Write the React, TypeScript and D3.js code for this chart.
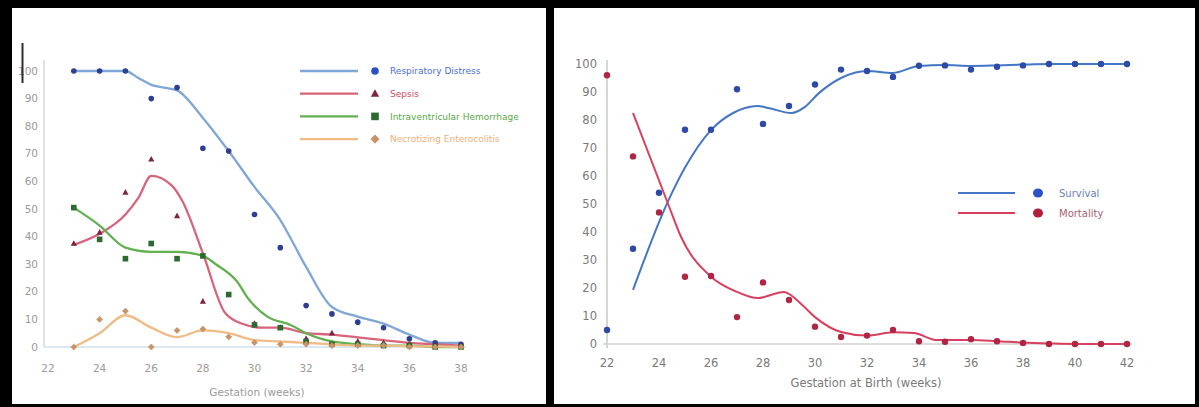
import React from "react";
import * as d3 from "d3";

// ---------- Left chart data ----------
const leftWeeks = [23, 24, 25, 26, 27, 28, 29, 30, 31, 32, 33, 34, 35, 36, 37, 38];
const respDistress = [100, 100, 100, 90, 94, 72, 71, 48, 36, 15, 12, 9, 7, 3, 1.5, 1];
const sepsis: (number | null)[] = [37.5, 41.5, 56, 68, 47.5, 16.5, null, 8.5, 7, 3, 5, 2, 1.5, 1, 0.5, 0.5];
const ivh = [50.5, 39, 32, 37.5, 32, 33, 19, 8, 7, 2, 1, 1, 0.5, 0.5, 0, 0];
const nec = [0, 10, 13, 0, 6, 6.5, 3.7, 1.6, 1, 1, 0.5, 0.5, 0.5, 0, 0, 0];

const respTrendWeeks = [23, 24, 25, 25.5, 26, 26.5, 27, 28, 29, 30, 31, 32, 33, 34, 35, 36, 37, 38];
const respTrend = [100, 100, 100, 97.5, 95, 94, 93, 83, 71, 58, 46, 29, 14.5, 11, 8.5, 4.5, 1.5, 1.5];
const sepsisTrendWeeks = [23, 24, 25, 25.5, 26, 26.8, 27.2, 28, 28.85, 29.5, 30.3, 31, 32, 33, 34, 35, 36, 37, 38];
const sepsisTrend = [37, 41, 48, 54, 62, 58.5, 53, 34, 12.5, 8.5, 7, 7, 5, 4.5, 3.5, 2.5, 1.5, 1, 0.5];
const ivhTrendWeeks = [23, 24, 25, 26, 27, 28, 28.5, 29.3, 29.8, 30.5, 31.4, 32, 33, 34, 35, 36, 37, 38];
const ivhTrend = [50.5, 44, 36, 34.5, 34.5, 33, 30, 24, 17, 11, 8, 5, 2, 1, 0.5, 0.5, 0, 0];
const necTrendWeeks = [23, 24, 25, 26, 27, 28, 29, 30, 31, 32, 33, 34, 35, 36, 37, 38];
const necTrend = [0, 5, 11.5, 7, 3.6, 6, 5, 2.5, 2, 1.5, 1, 0.5, 0.5, 0.3, 0.2, 0];

const leftLegend = ["Respiratory Distress", "Sepsis", "Intraventricular Hemorrhage", "Necrotizing Enterocolitis"];
const leftXTicks = [22, 24, 26, 28, 30, 32, 34, 36, 38];
const leftYTicks = [0, 10, 20, 30, 40, 50, 60, 70, 80, 90, 100];

// ---------- Right chart data ----------
const rightWeeks = [22, 23, 24, 25, 26, 27, 28, 29, 30, 31, 32, 33, 34, 35, 36, 37, 38, 39, 40, 41, 42];
const survival = [5, 34, 54, 76.5, 76.5, 91, 78.6, 85, 92.7, 98, 97.5, 95.4, 99.4, 99.5, 98, 99, 99.5, 100, 100, 100, 100];
const mortality = [96, 67, 47, 24, 24.3, 9.6, 22, 15.7, 6.2, 2.5, 3, 5, 1, 0.8, 1.7, 1, 0.4, 0, 0, 0, 0];

const survivalTrendWeeks = [23, 24.35, 25, 26, 26.85, 27.8, 28.2, 29.1, 29.6, 30.15, 31, 32, 33, 34, 35, 36, 37, 38, 39, 40, 41, 42];
const survivalTrend = [19.3, 51, 63, 76.4, 82.5, 85, 84.3, 82.5, 84.6, 89.6, 95, 97.5, 96.8, 99.3, 99.6, 99.3, 99.5, 99.8, 100, 100, 100, 100];
const mortalityTrendWeeks = [23, 24.35, 24.85, 26, 27, 27.8, 28.8, 29.5, 30, 31, 32, 33, 33.8, 34.7, 36, 37, 38, 39, 40, 41, 42];
const mortalityTrend = [82.5, 50, 38.2, 24, 18.6, 16.4, 18.6, 14, 9.6, 4.3, 3, 4.2, 3.9, 1.4, 1.4, 1, 0.5, 0.2, 0, 0, 0];

const rightLegend = ["Survival", "Mortality"];
const rightXTicks = [22, 24, 26, 28, 30, 32, 34, 36, 38, 40, 42];
const rightYTicks = [0, 10, 20, 30, 40, 50, 60, 70, 80, 90, 100];

const FONT = "'DejaVu Sans', Verdana, sans-serif";

export default function App() {
  // left scales
  const xL = d3.scaleLinear().domain([22, 38]).range([48, 461]);
  const yL = d3.scaleLinear().domain([0, 100]).range([347, 71]);
  // right scales
  const xR = d3.scaleLinear().domain([22, 42]).range([607, 1127]);
  const yR = d3.scaleLinear().domain([0, 100]).range([344, 64]);

  const lineL = (ws: number[], vs: number[]) =>
    d3.line<number>().x((_, i) => xL(ws[i])).y((v) => yL(v)).curve(d3.curveMonotoneX)(vs) || "";
  const lineR = (ws: number[], vs: number[]) =>
    d3.line<number>().x((_, i) => xR(ws[i])).y((v) => yR(v)).curve(d3.curveMonotoneX)(vs) || "";

  const leftSeries = [
    { name: leftLegend[0], vals: respDistress as (number | null)[], tw: respTrendWeeks, tv: respTrend, line: "#7ea6d6", dot: "#2c3f92", text: "#4a6fd0", shape: "circle" },
    { name: leftLegend[1], vals: sepsis, tw: sepsisTrendWeeks, tv: sepsisTrend, line: "#d8647c", dot: "#7c2440", text: "#d04a68", shape: "triangle" },
    { name: leftLegend[2], vals: ivh as (number | null)[], tw: ivhTrendWeeks, tv: ivhTrend, line: "#62b050", dot: "#2c6a30", text: "#58a848", shape: "square" },
    { name: leftLegend[3], vals: nec as (number | null)[], tw: necTrendWeeks, tv: necTrend, line: "#f1bb86", dot: "#c99468", text: "#eeb07a", shape: "diamond" },
  ];

  const marker = (shape: string, cx: number, cy: number, r: number, fill: string, key?: string) => {
    if (shape === "triangle") {
      const p = `${cx},${cy - r * 1.2} ${cx + r * 1.1},${cy + r * 0.8} ${cx - r * 1.1},${cy + r * 0.8}`;
      return <polygon key={key} points={p} fill={fill} />;
    }
    if (shape === "square") {
      return <rect key={key} x={cx - r} y={cy - r} width={r * 2} height={r * 2} fill={fill} />;
    }
    if (shape === "diamond") {
      const p = `${cx},${cy - r * 1.2} ${cx + r * 1.2},${cy} ${cx},${cy + r * 1.2} ${cx - r * 1.2},${cy}`;
      return <polygon key={key} points={p} fill={fill} />;
    }
    return <circle key={key} cx={cx} cy={cy} r={r} fill={fill} />;
  };

  return (
    <svg width={1199} height={407} style={{ position: "absolute", left: 0, top: 0 }} fontFamily={FONT}>
      <rect x={0} y={0} width={1199} height={407} fill="#000" />
      <rect x={12} y={8} width={534} height={396} fill="#fff" />
      <rect x={554} y={8} width={641} height={396} fill="#fff" />

      {/* ---------- LEFT CHART ---------- */}
      <g>
        <line x1={44} x2={44} y1={60} y2={347} stroke="#d8d8d8" strokeWidth={1.5} />
        <line x1={44} x2={466} y1={347} y2={347} stroke="#cfe0ee" strokeWidth={1.5} />
        {leftYTicks.map((t) => (
          <text key={"ly" + t} x={38} y={yL(t)} dy="0.35em" textAnchor="end" fontSize={10.5} fill="#9a9a9a">
            {t}
          </text>
        ))}
        {leftXTicks.map((t) => (
          <text key={"lx" + t} x={xL(t)} y={372} textAnchor="middle" fontSize={10.5} fill="#9a9a9a">
            {t}
          </text>
        ))}
        <text x={257} y={396} textAnchor="middle" fontSize={10.5} fill="#9a9a9a">
          Gestation (weeks)
        </text>
        <line x1={22.5} x2={22.5} y1={43} y2={83} stroke="#2a2a3a" strokeWidth={2} />

        {leftSeries.map((s, si) => (
          <path key={"lt" + si} d={lineL(s.tw, s.tv)} fill="none" stroke={s.line} strokeWidth={2.3} />
        ))}
        {leftSeries.map((s, si) =>
          s.vals.map((v, i) =>
            v == null ? null : marker(s.shape, xL(leftWeeks[i]), yL(v), 2.8, s.dot, `lp${si}-${i}`)
          )
        )}

        {leftSeries.map((s, si) => {
          const y = 71 + si * 22.7;
          return (
            <g key={"lg" + si}>
              <line x1={300} x2={358} y1={y} y2={y} stroke={s.line} strokeWidth={2.3} />
              {marker(s.shape, 375, y, 3.8, s.dot === "#2c3f92" ? "#2d4fc8" : s.dot)}
              <text x={390} y={y} dy="0.35em" fontSize={9} fill={s.text}>
                {s.name}
              </text>
            </g>
          );
        })}
      </g>

      {/* ---------- RIGHT CHART ---------- */}
      <g>
        <line x1={607} x2={607} y1={60} y2={348} stroke="#c8c8c8" strokeWidth={1.5} />
        <line x1={603} x2={1132} y1={344} y2={344} stroke="#d0d0d0" strokeWidth={1.5} />
        {rightYTicks.map((t) => (
          <text key={"ry" + t} x={597} y={yR(t)} dy="0.35em" textAnchor="end" fontSize={11.5} fill="#7a7a7a">
            {t}
          </text>
        ))}
        {rightXTicks.map((t) => (
          <text key={"rx" + t} x={xR(t)} y={367} textAnchor="middle" fontSize={11.5} fill="#7a7a7a">
            {t}
          </text>
        ))}
        <text x={866} y={387} textAnchor="middle" fontSize={11.5} fill="#7a7a7a">
          Gestation at Birth (weeks)
        </text>

        <path d={lineR(survivalTrendWeeks, survivalTrend)} fill="none" stroke="#4476c6" strokeWidth={2} />
        <path d={lineR(mortalityTrendWeeks, mortalityTrend)} fill="none" stroke="#d8405e" strokeWidth={2} />
        {survival.map((v, i) => (
          <circle key={"s" + i} cx={xR(rightWeeks[i])} cy={yR(v)} r={3.2} fill="#2d4aa6" />
        ))}
        {mortality.map((v, i) => (
          <circle key={"m" + i} cx={xR(rightWeeks[i])} cy={yR(v)} r={3.2} fill="#b02444" />
        ))}

        {rightLegend.map((name, i) => {
          const y = 193 + i * 20;
          return (
            <g key={"rl" + i}>
              <line x1={958} x2={1015} y1={y} y2={y} stroke={i === 0 ? "#4476c6" : "#d8405e"} strokeWidth={2.2} />
              <ellipse cx={1038} cy={y} rx={5} ry={4.5} fill={i === 0 ? "#2d52c8" : "#b02038"} />
              <text x={1059} y={y} dy="0.35em" fontSize={10} fill={i === 0 ? "#6a7fb8" : "#a86070"}>
                {name}
              </text>
            </g>
          );
        })}
      </g>
    </svg>
  );
}
